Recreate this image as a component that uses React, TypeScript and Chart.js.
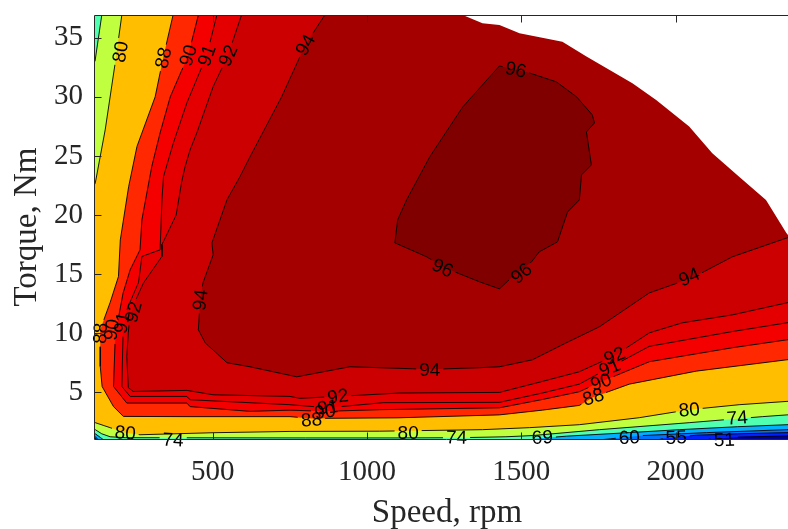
import React, { useEffect, useRef } from 'react';
import { Chart, registerables } from 'chart.js';

Chart.register(...registerables);

// ---- axes ----
const speedMin = 118;
const speedMax = 2400;
const torqueMin = 1.06;
const torqueMax = 36.92;
const speedTicks = [500, 1000, 1500, 2000];
const torqueTicks = [5, 10, 15, 20, 25, 30, 35];

// ---- efficiency levels (%) ----
const levels = [45, 51, 55, 60, 69, 74, 80, 88, 90, 91, 92, 94, 96];
const levelColors = [
  '#00009F', '#0020FF', '#0070FF', '#00B0FF', '#50FFB0', '#C0FF40',
  '#FFBF00', '#FF2800', '#F50000', '#E40000', '#CC0000', '#A50000', '#800000',
];

// ---- regions where efficiency >= level, [speed rpm, torque Nm] ----
const eff45: [number, number][] = [[0, -10], [3000, -10], [3000, 50], [0, 50]];
const eff51: [number, number][] = [[0, 50], [0, -5], [2050, -5], [2050, 0.6], [2110, 1.05], [2206, 1.22], [2361, 1.32], [2450, 1.36], [2600, 1.4], [2600, 50]];
const eff55: [number, number][] = [[0, 50], [0, 1.25], [60, 1.25], [119, 1.12], [124, 0.9], [130, -5], [1880, -5], [1880, 0.6], [1960, 1.1], [2067, 1.38], [2200, 1.5], [2361, 1.6], [2450, 1.65], [2600, 1.7], [2600, 50]];
const eff60: [number, number][] = [[0, 50], [0, 1.4], [60, 1.4], [119, 1.26], [128, 1.0], [140, -5], [1650, -5], [1650, 0.5], [1720, 0.9], [1790, 1.08], [1892, 1.35], [2100, 1.6], [2361, 1.85], [2450, 1.9], [2600, 1.95], [2600, 50]];
const eff69: [number, number][] = [[0, 50], [0, 1.7], [60, 1.7], [119, 1.5], [135, 1.2], [150, 0.9], [170, -5], [1400, -5], [1400, 0.5], [1480, 0.9], [1560, 1.12], [1646, 1.3], [1850, 1.6], [2012, 1.85], [2200, 2.1], [2361, 2.27], [2450, 2.35], [2600, 2.45], [2600, 50]];
const eff74: [number, number][] = [[0, 30], [118, 33.0], [140, 36.92], [150, 40], [2600, 40], [2600, 3.3], [2450, 3.2], [2361, 3.1], [2281, 2.95], [2044, 2.44], [1753, 1.85], [1536, 1.35], [1450, 1.25], [1300, 1.17], [1100, 1.15], [800, 1.15], [216, 1.17], [167, 1.25], [140, 1.5], [119, 1.85], [60, 2.1], [0, 2.2]];
const eff80: [number, number][] = [[0, 16], [119, 22.72], [151, 27.2], [183, 32.79], [205, 36.92], [215, 40], [2600, 40], [2600, 4.5], [2450, 4.35], [2361, 4.24], [2206, 3.96], [2044, 3.54], [1882, 2.86], [1688, 2.27], [1527, 2.02], [1374, 1.85], [1041, 1.72], [750, 1.7], [501, 1.59], [264, 1.42], [216, 1.59], [167, 2.02], [119, 2.44], [0, 3.2]];
const eff88: [number, number][] = [[380, 40], [371, 36.92], [339, 33.3], [313, 30.0], [254, 25.8], [227, 22.4], [200, 17.9], [194, 14.8], [167, 12.6], [135, 10.3], [135, 7.2], [141, 5.5], [178, 3.8], [210, 2.97], [426, 2.95], [750, 2.95], [820, 2.8], [1100, 2.85], [1429, 3.1], [1568, 3.5], [1688, 3.9], [1733, 4.6], [1850, 5.7], [2067, 6.8], [2361, 7.76], [2600, 8.3], [2600, 40]];
const eff90: [number, number][] = [[460, 40], [453, 36.92], [420, 33.5], [362, 30.0], [329, 26.95], [302, 24.1], [270, 19.6], [264, 17.06], [232, 15.37], [209, 13.4], [189, 10.6], [183, 9.2], [178, 5.5], [221, 4.1], [416, 4.1], [426, 3.8], [620, 3.4], [750, 3.5], [863, 3.4], [1041, 3.54], [1429, 3.7], [1568, 4.4], [1688, 5.06], [1758, 5.9], [1915, 7.6], [2184, 8.78], [2361, 9.45], [2600, 10.0], [2600, 40]];
const eff91: [number, number][] = [[520, 40], [513, 36.92], [480, 33.5], [416, 29.5], [372, 26.1], [340, 23.25], [335, 21.3], [329, 17.06], [270, 16.5], [259, 14.3], [221, 11.99], [209, 10.04], [205, 5.5], [232, 4.66], [416, 4.66], [426, 4.38], [750, 3.96], [873, 3.7], [1051, 4.13], [1429, 4.16], [1568, 4.95], [1688, 5.7], [1786, 7.1], [1915, 8.9], [2184, 10.15], [2361, 10.89], [2600, 11.5], [2600, 40]];
const eff92: [number, number][] = [[600, 40], [593, 36.92], [549, 33.5], [501, 30.86], [448, 26.95], [426, 25.5], [410, 24.1], [399, 22.83], [381, 20.0], [335, 17.5], [335, 16.5], [275, 14.25], [248, 12.7], [230, 11.2], [226, 10.04], [221, 8.04], [226, 5.4], [242, 5.08], [416, 5.17], [501, 4.8], [750, 4.66], [782, 4.5], [905, 4.66], [1106, 4.95], [1429, 5.0], [1568, 5.93], [1688, 6.75], [1802, 8.1], [1915, 10.04], [2022, 10.89], [2184, 11.56], [2361, 12.58], [2600, 13.5], [2600, 40]];
const eff94: [number, number][] = [[870, 40], [863, 36.92], [800, 34.4], [723, 30.0], [620, 24.9], [588, 23.25], [546, 21.3], [497, 17.65], [501, 16.64], [468, 14.27], [459, 12.83], [453, 10.3], [475, 9.2], [546, 7.51], [620, 7.17], [772, 6.32], [944, 7.17], [1148, 7.0], [1203, 6.95], [1365, 7.09], [1429, 7.17], [1536, 7.76], [1646, 9.2], [1753, 10.55], [1915, 13.42], [2054, 14.69], [2184, 16.47], [2361, 18.07], [2600, 19.5], [2600, 40]];
const eff96: [number, number][] = [[1429, 32.61], [1517, 32.1], [1614, 31.26], [1679, 30.0], [1730, 28.47], [1737, 27.79], [1711, 27.03], [1727, 24.24], [1695, 23.4], [1688, 21.28], [1650, 20.27], [1617, 17.73], [1558, 16.89], [1533, 16.04], [1478, 14.95], [1429, 13.76], [1365, 14.35], [1251, 15.54], [1193, 16.47], [1090, 17.65], [1099, 19.59], [1128, 21.28], [1203, 24.92], [1310, 29.14], [1429, 32.61]];
const regions = [eff45, eff51, eff55, eff60, eff69, eff74, eff80, eff88, eff90, eff91, eff92, eff94, eff96];

// ---- maximum torque envelope (outside it there is no data) ----
const envelope: [number, number][] = [[1290, 37.5], [1310, 36.92], [1374, 36.22], [1429, 36.07], [1494, 35.37], [1633, 34.66], [1711, 33.4], [1860, 31.15], [1937, 29.73], [2044, 27.48], [2119, 25.23], [2206, 23.25], [2293, 21.28], [2359, 18.49], [2450, 15.5]];

// ---- contour labels: text, speed, torque, angle(deg) ----
const labelTexts = ['80', '88', '90', '91', '92', '94', '96', '96', '96', '94', '94', '94', '88', '90', '91', '92', '92', '91', '90', '88', '92', '91', '90', '88', '80', '74', '80', '74', '69', '60', '55', '51', '80', '74'];
const labelSpeeds = [200, 339, 420, 480, 549, 800, 1482, 1245, 1500, 459, 1203, 2044, 135, 172, 205, 242, 905, 873, 863, 820, 1802, 1786, 1758, 1733, 216, 371, 1133, 1290, 1568, 1850, 2002, 2158, 2044, 2200];
const labelTorques = [33.8, 33.3, 33.5, 33.5, 33.5, 34.4, 32.3, 15.54, 15.09, 12.83, 6.92, 14.78, 10.0, 10.3, 10.9, 11.8, 4.66, 3.75, 3.37, 2.69, 8.1, 7.1, 5.9, 4.63, 1.59, 1.0, 1.59, 1.2, 1.2, 1.2, 1.2, 1.0, 3.54, 2.86];
const labelAngles = [-81, -77, -73, -70, -66, -60, 12, 25, -40, -82, 0, -23, -88, -82, -80, -75, -8, -8, -8, -5, -22, -22, -20, -18, 5, 3, 0, 2, -3, -2, -2, -2, -5, -5];

const serif = '"Liberation Serif", "Times New Roman", serif';
const labelFont = '19px "Liberation Sans", Arial, sans-serif';
const axisColor = '#262626';

const overlayPlugin = {
  id: 'overlay',
  // cut the contour line where its own labels sit (fill is already drawn by the filler)
  beforeDatasetDraw(chart: any, args: any) {
    const ds = chart.data.datasets[args.index];
    if (ds.levelValue == null) return;
    const { ctx } = chart;
    const xs = chart.scales.x;
    const ys = chart.scales.y;
    ctx.save();
    ctx.font = labelFont;
    ctx.beginPath();
    ctx.rect(-20, -20, chart.width + 40, chart.height + 40);
    for (let i = 0; i < labelTexts.length; i++) {
      if (labelTexts[i] !== String(ds.levelValue)) continue;
      const px = xs.getPixelForValue(labelSpeeds[i]);
      const py = ys.getPixelForValue(labelTorques[i]);
      const w = ctx.measureText(labelTexts[i]).width / 2 + 3;
      const h = 7;
      const an = (labelAngles[i] * Math.PI) / 180;
      const c = Math.cos(an);
      const s = Math.sin(an);
      const corners = [[-w, -h], [w, -h], [w, h], [-w, h]].map(([u, v]) => [px + u * c - v * s, py + u * s + v * c]);
      ctx.moveTo(corners[0][0], corners[0][1]);
      for (let k = 1; k < 4; k++) ctx.lineTo(corners[k][0], corners[k][1]);
      ctx.closePath();
    }
    ctx.clip('evenodd');
  },
  afterDatasetDraw(chart: any, args: any) {
    const ds = chart.data.datasets[args.index];
    if (ds.levelValue == null) return;
    chart.ctx.restore();
  },
  afterDatasetsDraw(chart: any) {
    const { ctx, chartArea: a } = chart;
    const xs = chart.scales.x;
    const ys = chart.scales.y;
    ctx.save();
    // contour labels
    ctx.font = labelFont;
    ctx.fillStyle = '#000';
    ctx.textAlign = 'center';
    ctx.textBaseline = 'middle';
    for (let i = 0; i < labelTexts.length; i++) {
      const px = xs.getPixelForValue(labelSpeeds[i]);
      const py = ys.getPixelForValue(labelTorques[i]);
      ctx.save();
      ctx.translate(px, py);
      ctx.rotate((labelAngles[i] * Math.PI) / 180);
      ctx.fillText(labelTexts[i], 0, 1);
      ctx.restore();
    }
    // axes box
    ctx.strokeStyle = axisColor;
    ctx.lineWidth = 1;
    const L = Math.round(a.left) - 0.5;
    const T = Math.round(a.top) + 0.5;
    const B = Math.round(a.bottom) + 0.5;
    const R = Math.round(a.right) - 0.5;
    ctx.beginPath();
    ctx.moveTo(R, T);
    ctx.lineTo(L, T);
    ctx.lineTo(L, B);
    ctx.lineTo(R, B);
    ctx.lineTo(R, T);
    ctx.stroke();
    // inward ticks
    ctx.beginPath();
    for (const v of torqueTicks) {
      const py = Math.round(ys.getPixelForValue(v)) + 0.5;
      ctx.moveTo(L, py);
      ctx.lineTo(L + 7, py);
      ctx.moveTo(R, py);
      ctx.lineTo(R - 7, py);
    }
    for (const v of speedTicks) {
      const px = Math.round(xs.getPixelForValue(v)) + 0.5;
      ctx.moveTo(px, B);
      ctx.lineTo(px, B - 7);
      ctx.moveTo(px, T);
      ctx.lineTo(px, T + 7);
    }
    ctx.stroke();
    ctx.restore();
  },
};

export default function App() {
  const ref = useRef<HTMLCanvasElement | null>(null);
  useEffect(() => {
    if (!ref.current) return;
    const datasets: any[] = regions.map((pts, i) => ({
      label: `≥${levels[i]}`,
      levelValue: levels[i],
      data: pts.map(([x, y]) => ({ x, y })),
      showLine: true,
      pointRadius: 0,
      pointHoverRadius: 0,
      borderColor: i === 0 ? 'rgba(0,0,0,0)' : '#000',
      borderWidth: i === 0 ? 0 : 0.9,
      backgroundColor: levelColors[i],
      fill: 'shape',
      tension: 0,
      order: regions.length + 1 - i,
    }));
    datasets.push({
      label: 'limit',
      data: envelope.map(([x, y]) => ({ x, y })),
      showLine: true,
      pointRadius: 0,
      borderWidth: 0,
      borderColor: 'rgba(0,0,0,0)',
      backgroundColor: '#ffffff',
      fill: 'end',
      tension: 0,
      order: 0,
    });
    const chart = new Chart(ref.current, {
      type: 'scatter',
      data: { datasets },
      options: {
        responsive: false,
        animation: false,
        devicePixelRatio: 1,
        layout: { padding: { top: 15, right: 1, bottom: 0, left: 0 } },
        plugins: { legend: { display: false }, tooltip: { enabled: false } },
        scales: {
          x: {
            type: 'linear',
            position: 'bottom',
            min: speedMin,
            max: speedMax,
            grid: { display: false, drawTicks: false },
            border: { display: false },
            ticks: { font: { family: serif, size: 29 }, color: axisColor, padding: 16, maxRotation: 0, callback: (v: any) => String(v) },
            title: { display: true, text: 'Speed, rpm', font: { family: serif, size: 33, lineHeight: 0.96 }, color: axisColor, padding: 0 },
            afterBuildTicks: (s: any) => { s.ticks = speedTicks.map((v) => ({ value: v })); },
            afterFit: (s: any) => { s.height = 90; s.paddingLeft = 0; s.paddingRight = 0; },
          },
          y: {
            type: 'linear',
            position: 'left',
            min: torqueMin,
            max: torqueMax,
            grid: { display: false, drawTicks: false },
            border: { display: false },
            ticks: { font: { family: serif, size: 29 }, color: axisColor, padding: 12, callback: (v: any) => String(v) },
            title: { display: true, text: 'Torque, Nm', font: { family: serif, size: 33, lineHeight: 1.2 }, color: axisColor, padding: { top: 8, bottom: 0 } },
            afterBuildTicks: (s: any) => { s.ticks = torqueTicks.map((v) => ({ value: v })); },
            afterFit: (s: any) => { s.width = 95; s.paddingTop = 0; s.paddingBottom = 0; },
          },
        },
      } as any,
      plugins: [overlayPlugin],
    });
    return () => chart.destroy();
  }, []);
  return (
    <div style={{ position: 'fixed', left: 0, top: 0, width: 788, height: 529, overflow: 'hidden', background: '#fff' }}>
      <canvas ref={ref} width={800} height={529} style={{ display: 'block', width: 800, height: 529 }} />
    </div>
  );
}
